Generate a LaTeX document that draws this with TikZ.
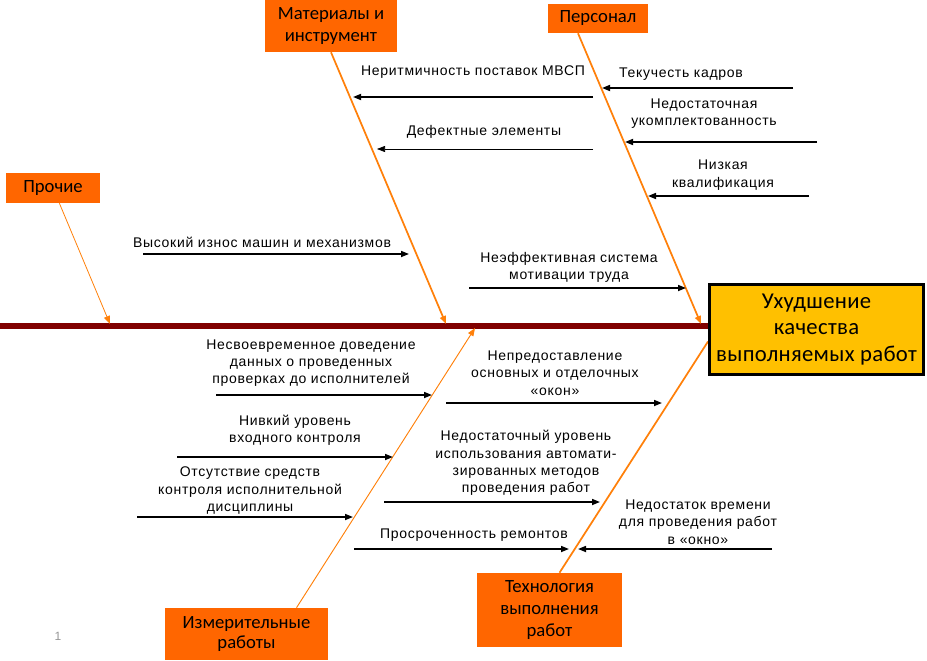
\documentclass[tikz,border=0pt]{standalone}
\usepackage{fontspec}
\setmainfont{Liberation Sans}[LetterSpace=5]
\newfontfamily\boxfont{Carlito}
\newfontfamily\efffont{Carlito}[LetterSpace=1.5]
\usepackage{tikz}
\usetikzlibrary{arrows.meta}
\usetikzlibrary{positioning}

\begin{document}
\begin{tikzpicture}[x=0.75pt,y=0.75pt,yscale=-1,
  catbox/.style={fill={rgb, 255:red, 255; green, 102; blue, 0 }, inner sep=0pt, align=center, font=\boxfont\fontsize{14}{16}\selectfont},
  bone/.style={draw={rgb, 255:red, 255; green, 128; blue, 10 }, line width=1.3pt, -{Triangle[length=6pt,width=4.5pt]}},
  cause/.style={line width=1.2pt, -{Triangle[length=6pt,width=4.5pt]}},
  lbl/.style={align=center, inner sep=0pt, font=\fontsize{10.5}{13}\selectfont}]
  \useasboundingbox (0,0) rectangle (927,660);

  %spine
  \coordinate (sp0) at (0,326);
  \coordinate (sp1) at (712,326);
  \draw [draw={rgb, 255:red, 128; green, 0; blue, 0 }, line width=5pt] (sp0) -- (sp1);

  \node [catbox, minimum width=70.5pt, minimum height=22.5pt] (prochie) at (53,188) {Прочие};
  \node [catbox, minimum width=99pt, minimum height=39pt] (mat) at (331,26) {Материалы и\\инструмент};
  \node [catbox, minimum width=75pt, minimum height=21.75pt] (pers) at (598,18.5) {Персонал};
  \node [catbox, minimum width=122.25pt, minimum height=39pt, font=\boxfont\fontsize{14}{15}\selectfont] (izm) at (246.5,634) {Измерительные\\работы};
  \node [catbox, minimum width=108.75pt, minimum height=55.5pt, font=\boxfont\fontsize{14}{16.5}\selectfont] (tech) at (549.5,610) {Технология\\выполнения\\работ};

  \coordinate (b1) at (110,324);
  \coordinate (b2) at (446,324);
  \coordinate (b3) at (701,324);
  \coordinate (b4) at (475,328);
  \coordinate (b5) at (708,341.5);
  \draw [bone, line width=0.6pt] (prochie) -- (b1);
  \draw [bone] (mat.south) -- (b2);
  \draw [bone] ([xshift=-15pt]pers.south) -- (b3);
  \draw [bone, line width=0.7pt] ([xshift=37.5pt]izm.north) -- (b4);
  \draw [bone, -] ([xshift=7.5pt]tech.north) -- (b5);

  \node [draw, line width=2.25pt, fill={rgb, 255:red, 255; green, 192; blue, 0 }, minimum width=160.5pt, minimum height=67.5pt, inner sep=0pt, align=center, font=\efffont\fontsize{17}{20}\selectfont] (eff) at (816.5,329.5) {Ухудшение\\качества\\выполняемых работ};

  %upper causes
  \coordinate (a1) at (593,97);   \coordinate (e1) at (353,97);
  \coordinate (a2) at (593,149);  \coordinate (e2) at (377,149);
  \coordinate (a3) at (143,254);  \coordinate (e3) at (409,254);
  \coordinate (a4) at (793,88);   \coordinate (e4) at (602,88);
  \coordinate (a5) at (817,142);  \coordinate (e5) at (625,142);
  \coordinate (a6) at (809,196);  \coordinate (e6) at (648,196);
  \coordinate (a7) at (469,288);  \coordinate (e7) at (686,288);
  \draw [cause] (a1) -- (e1);
  \draw [cause, line width=0.5pt] (a2) -- (e2);
  \draw [cause] (a3) -- (e3);
  \draw [cause] (a4) -- (e4);
  \draw [cause] (a5) -- (e5);
  \draw [cause] (a6) -- (e6);
  \draw [cause] (a7) -- (e7);

  \node [lbl] (l1) at (473,72) {Неритмичность поставок МВСП};
  \node [lbl] (l2) at (484,132) {Дефектные элементы};
  \node [lbl] (l3) at (262,242) {Высокий износ машин и механизмов};
  \node [lbl] (l4) at (681,74) {Текучесть кадров};
  \node [lbl] (l5) at (704,113.5) {Недостаточная\\укомплектованность};
  \node [lbl] (l6) at (723,175) {Низкая\\квалификация};
  \node [lbl] (l7) at (569,267.5) {Неэффективная система\\мотивации труда};

  %lower causes
  \coordinate (a8) at (216,395);  \coordinate (e8) at (432,395);
  \coordinate (a9) at (177,457);  \coordinate (e9) at (393,457);
  \coordinate (a10) at (137,517); \coordinate (e10) at (353,517);
  \coordinate (a11) at (446,403); \coordinate (e11) at (662,403);
  \coordinate (a12) at (384,502); \coordinate (e12) at (600,502);
  \coordinate (a13) at (354,549); \coordinate (e13) at (569,549);
  \coordinate (a14) at (772,549); \coordinate (e14) at (578,549);
  \draw [cause] (a8) -- (e8);
  \draw [cause] (a9) -- (e9);
  \draw [cause] (a10) -- (e10);
  \draw [cause] (a11) -- (e11);
  \draw [cause] (a12) -- (e12);
  \draw [cause] (a13) -- (e13);
  \draw [cause] (a14) -- (e14);

  \node [lbl] (l8) at (311,363) {Несвоевременное доведение\\данных о проведенных\\проверках до исполнителей};
  \node [lbl] (l9) at (295,430.5) {Нивкий уровень\\входного контроля};
  \node [lbl] (l10) at (250,490.5) {Отсутствие средств\\контроля исполнительной\\дисциплины};
  \node [lbl] (l11) at (555,373) {Непредоставление\\основных и отделочных\\«окон»};
  \node [lbl] (l12) at (526,463) {Недостаточный уровень\\использования автомати-\\зированных методов\\проведения работ};
  \node [lbl] (l13) at (474,535) {Просроченность ремонтов};
  \node [lbl] (l14) at (698,522) {Недостаток времени\\для проведения работ\\в «окно»};

  \node [text={rgb, 255:red, 150; green, 150; blue, 150 }, font=\fontsize{9}{10}\selectfont] (pg) at (58,636) {1};

\end{tikzpicture}
\end{document}
